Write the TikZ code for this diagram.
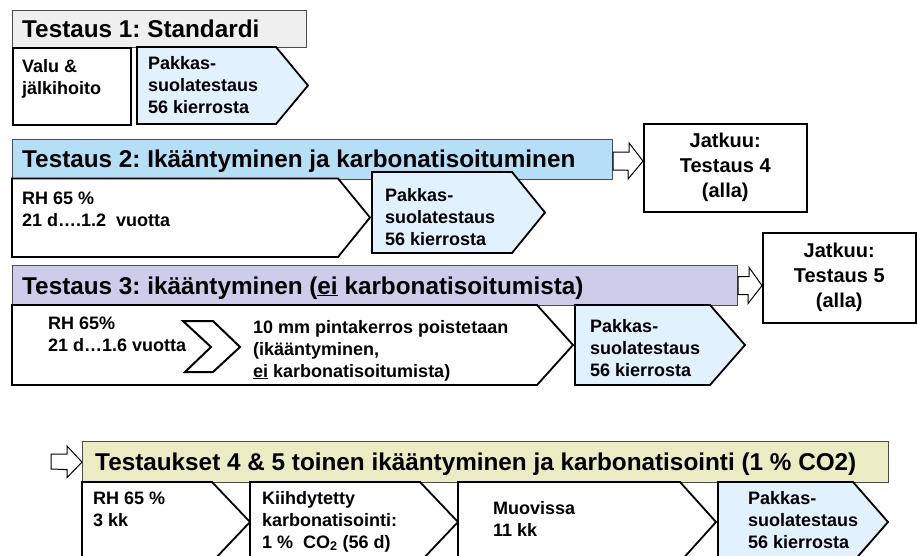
\documentclass[tikz,border=0pt]{standalone}
\usepackage{fontspec}
\setmainfont{Liberation Sans}
\usetikzlibrary{calc}
\frenchspacing
\definecolor{tgray}{HTML}{EFEFEF}
\definecolor{tblue}{HTML}{B5DFF6}
\definecolor{tlav}{HTML}{CDCDEB}
\definecolor{tolive}{HTML}{EBEBC4}
\definecolor{pblue}{HTML}{E1F1FD}
\begin{document}
\begin{tikzpicture}[x=1pt,y=-1pt,
  titlebox/.style={draw=black!70, line width=1.2pt, anchor=north west, inner sep=0pt},
  ttext/.style={anchor=base west, inner sep=0pt, font=\fontsize{24.3}{28}\selectfont\bfseries},
  stext/.style={anchor=base west, inner sep=0pt, align=left, font=\fontsize{18}{22}\selectfont\bfseries},
  wpent/.style={draw=black, line width=1.8pt, fill=white, line join=miter},
  bpent/.style={draw=black, line width=1.8pt, fill=pblue, line join=miter},
  plainbox/.style={draw=black, line width=1.8pt, fill=white, anchor=north west, inner sep=0pt},
  hollow/.style={draw=black, line width=1pt, fill=white, line join=miter},
  jbox/.style={draw=black, line width=1.5pt, fill=white, anchor=north west, align=center, inner sep=0pt, font=\fontsize{20}{25}\selectfont\bfseries}
]
\useasboundingbox (0,0) rectangle (917,555);
\clip (0,0) rectangle (917,555);

% ---------- Row 1 ----------
\node[titlebox, fill=tgray, minimum width=294pt, minimum height=37pt] (t1) at (12,10) {};
\node[ttext] (t1txt) at (22,37) {Testaus 1: Standardi};
\node[plainbox, minimum width=118pt, minimum height=77pt] (valu) at (12,47) {};
\node[stext] (valutxt) at (22,94) {Valu \&\\jälkihoito};
\draw[bpent] (137,47) -- (276,47) -- (308,85.5) -- (276,124) -- (137,124) -- cycle;
\node[stext] (p1txt) at (148,113) {Pakkas-\\suolatestaus\\56 kierrosta};

% ---------- Row 2 ----------
\node[titlebox, fill=tblue, minimum width=600pt, minimum height=40pt] (t2) at (12,138.5) {};
\node[ttext] (t2txt) at (22,167.5) {Testaus 2: Ikääntyminen ja karbonatisoituminen};
\node[jbox, minimum width=163pt, minimum height=88pt] (j1) at (643,123) {Jatkuu:\\Testaus 4\\(alla)};
\coordinate (a2) at ([yshift=-2pt]t2.east);
\draw[hollow] ([yshift=9pt]a2) -- ++(16pt,0pt) -- ++(0pt,9pt) -- (a2 -| j1.west)
  -- ++(-15pt,-18pt) -- ++(0pt,9pt) -- ([yshift=-9pt]a2) -- cycle;
\draw[wpent] (12,178.5) -- (338,178.5) -- (370,217.5) -- (338,257) -- (12,257) -- cycle;
\node[stext] (w2txt) at (22,226) {RH 65 \%\\21 d….1.2\ \ vuotta};
\draw[bpent] (372,172) -- (512,172) -- (545,212.5) -- (512,253) -- (372,253) -- cycle;
\node[stext] (p2txt) at (385,245) {Pakkas-\\suolatestaus\\56 kierrosta};

% ---------- Row 3 ----------
\node[titlebox, fill=tlav, minimum width=725pt, minimum height=40pt] (t3) at (12,265) {};
\node[ttext] (t3txt) at (22,294) {Testaus 3: ikääntyminen (\underline{ei} karbonatisoitumista)};
\node[jbox, minimum width=153pt, minimum height=90pt] (j2) at (762,232) {Jatkuu:\\Testaus 5\\(alla)};
\draw[hollow] ([yshift=9pt]t3.east) -- ++(11pt,0pt) -- ++(0pt,9pt) -- (t3.east -| j2.west)
  -- ++(-14pt,-18pt) -- ++(0pt,9pt) -- ([yshift=-9pt]t3.east) -- cycle;
\draw[wpent] (12,305) -- (537,305) -- (573,345) -- (537,385) -- (12,385) -- cycle;
\node[stext] (w3txt) at (48,351) {RH 65\%\\21 d…1.6 vuotta};
\draw[wpent, line width=2pt] (183,321) -- (213,321) -- (240,347) -- (213,372) -- (185,372) -- (211,347) -- cycle;
\node[stext] (w3txtb) at (253,377) {10 mm pintakerros poistetaan\\(ikääntyminen,\\\underline{ei} karbonatisoitumista)};
\draw[bpent] (575,305) -- (710,305) -- (745,345) -- (710,385) -- (575,385) -- cycle;
\node[stext] (p3txt) at (590,376) {Pakkas-\\suolatestaus\\56 kierrosta};

% ---------- Row 4 ----------
\node[titlebox, fill=tolive, minimum width=806pt, minimum height=41pt] (t4) at (82,441) {};
\node[ttext] (t4txt) at (95,470) {Testaukset 4 \& 5 toinen ikääntyminen ja karbonatisointi (1 \% CO2)};
\coordinate (a4) at (51,461.5);
\draw[hollow] ([yshift=7.5pt]a4) -- ++(16pt,0pt) -- ++(0pt,8pt) -- (t4.west)
  -- ++(-15pt,-15.5pt) -- ++(0pt,8pt) -- ([yshift=-7.5pt]a4) -- cycle;
\draw[wpent] (82,482) -- (212,482) -- (250,522) -- (212,562) -- (82,562) -- cycle;
\node[stext] (q1txt) at (93,526) {RH 65 \%\\3 kk};
\draw[wpent] (250,482) -- (420,482) -- (458,522) -- (420,562) -- (250,562) -- cycle;
\node[stext] (q2txt) at (262,548) {Kiihdytetty\\karbonatisointi:\\1 \%\ \ CO\textsubscript{2} (56 d)};
\draw[wpent] (458,482) -- (680,482) -- (716,522) -- (680,562) -- (458,562) -- cycle;
\node[stext] (q3txt) at (493,536) {Muovissa\\11 kk};
\draw[bpent] (718,482) -- (853,482) -- (888,522) -- (853,562) -- (718,562) -- cycle;
\node[stext] (q4txt) at (748,548) {Pakkas-\\suolatestaus\\56 kierrosta};
\end{tikzpicture}
\end{document}
